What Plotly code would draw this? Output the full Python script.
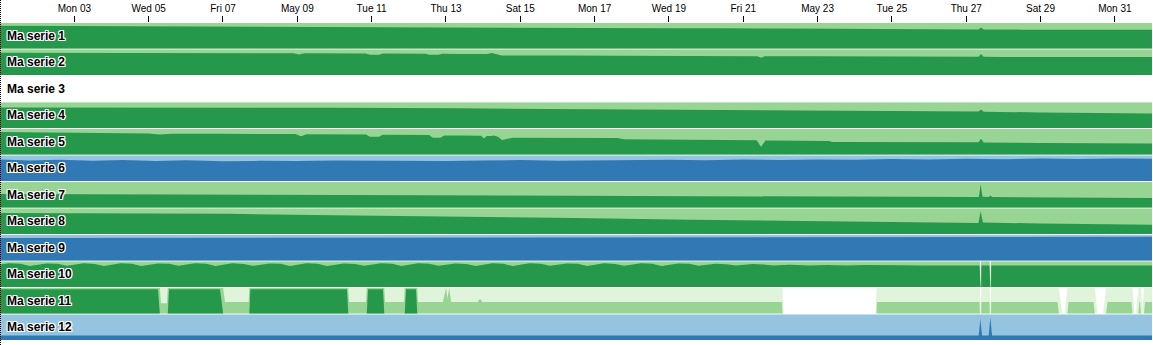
import numpy as np
import pandas as pd
import plotly.graph_objects as go

# ---------------- data (time = day of May 2021, fractional) ----------------
series_names = ["Ma serie 1", "Ma serie 2", "Ma serie 3", "Ma serie 4", "Ma serie 5", "Ma serie 6",
                "Ma serie 7", "Ma serie 8", "Ma serie 9", "Ma serie 10", "Ma serie 11", "Ma serie 12"]

tick_days = [3, 5, 7, 9, 11, 13, 15, 17, 19, 21, 23, 25, 27, 29, 31]
tick_labels = ["Mon 03", "Wed 05", "Fri 07", "May 09", "Tue 11", "Thu 13", "Sat 15", "Mon 17",
               "Wed 19", "Fri 21", "May 23", "Tue 25", "Thu 27", "Sat 29", "Mon 31"]

t1 = [1.0, 2.5, 4.0, 5.5, 7.0, 8.5, 10.0, 11.5, 13.0, 14.5, 16.0, 17.5, 19.0, 20.5, 21.5, 22.0, 23.5,
      25.0, 26.5, 27.33, 27.4, 27.47, 28.5, 30.0, 32.0]
v1 = [2.89, 2.88, 2.87, 2.86, 2.86, 2.85, 2.84, 2.82, 2.81, 2.80, 2.80, 2.80, 2.79, 2.79, 2.77, 2.78, 2.77,
      2.76, 2.75, 2.75, 2.82, 2.75, 2.74, 2.74, 2.74]

t2 = [1.0, 3.0, 5.0, 7.0, 8.9, 9.05, 9.2, 10.85, 10.95, 11.2, 11.3, 12.45, 12.55, 12.8, 12.9, 13.4, 14.1,
      14.24, 14.35, 14.5, 16.0, 18.0, 19.7, 21.38, 21.48, 21.58, 23.0, 25.0, 26.6, 27.33, 27.4, 27.47,
      28.0, 30.0, 32.0]
v2 = [2.87, 2.87, 2.86, 2.86, 2.85, 2.80, 2.85, 2.84, 2.79, 2.79, 2.84, 2.83, 2.79, 2.79, 2.83, 2.82, 2.82,
      2.86, 2.82, 2.76, 2.76, 2.75, 2.74, 2.74, 2.68, 2.74, 2.74, 2.74, 2.73, 2.72, 2.82, 2.72,
      2.71, 2.71, 2.71]

t3 = [1.0, 32.0]
v3 = [0.0, 0.0]

t4 = [1.0, 4.0, 7.0, 10.0, 13.4, 16.0, 19.6, 22.0, 25.0, 26.5, 27.33, 27.4, 27.47, 29.0, 32.0]
v4 = [2.80, 2.80, 2.80, 2.79, 2.77, 2.75, 2.73, 2.71, 2.68, 2.66, 2.65, 2.73, 2.64, 2.61, 2.57]

t5 = [1.0, 3.7, 5.0, 5.3, 5.6, 7.0, 8.95, 9.1, 9.25, 10.85, 10.95, 11.2, 11.3, 12.55, 12.65, 12.85, 12.95,
      13.4, 13.95, 14.02, 14.1, 14.22, 14.29, 14.4, 14.51, 14.8, 17.6, 17.8, 19.6, 21.36, 21.48, 21.6,
      22.5, 23.3, 23.4, 26.0, 27.33, 27.4, 27.47, 29.0, 32.0]
v5 = [2.88, 2.85, 2.82, 2.78, 2.81, 2.81, 2.80, 2.72, 2.79, 2.78, 2.70, 2.70, 2.77, 2.76, 2.66, 2.66, 2.75,
      2.75, 2.74, 2.63, 2.73, 2.73, 2.75, 2.70, 2.57, 2.66, 2.65, 2.60, 2.57, 2.56, 2.30, 2.55,
      2.54, 2.53, 2.49, 2.49, 2.48, 2.62, 2.47, 2.45, 2.43]

t6 = [1.0, 1.8, 2.6, 3.5, 4.3, 5.2, 6.0, 7.0, 8.0, 9.0, 10.0, 11.0, 12.0, 13.0, 14.0, 15.0, 16.0, 17.0,
      18.0, 19.0, 20.0, 21.0, 22.0, 23.0, 24.0, 25.0, 26.0, 27.0, 28.0, 29.0, 30.0, 31.0, 32.0]
v6 = [-1.84, -1.80, -1.83, -1.79, -1.82, -1.78, -1.81, -1.77, -1.79, -1.78, -1.80, -1.79, -1.81, -1.78,
      -1.80, -1.82, -1.79, -1.81, -1.80, -1.83, -1.81, -1.84, -1.82, -1.84, -1.83, -1.86, -1.84, -1.87,
      -1.85, -1.88, -1.86, -1.88, -1.87]

t7 = [1.0, 7.2, 13.4, 19.6, 24.0, 26.5, 27.34, 27.39, 27.44, 27.6, 27.65, 27.7, 32.0]
v7 = [2.53, 2.50, 2.46, 2.43, 2.42, 2.41, 2.41, 2.90, 2.42, 2.41, 2.47, 2.41, 2.37]

t8 = [1.0, 4.0, 7.2, 10.0, 13.4, 16.5, 19.6, 23.0, 26.0, 27.33, 27.39, 27.45, 29.0, 32.0]
v8 = [2.82, 2.80, 2.79, 2.74, 2.69, 2.63, 2.56, 2.50, 2.44, 2.43, 2.89, 2.45, 2.41, 2.36]

t9 = [1.0, 8.0, 16.0, 22.0, 27.0, 32.0]
v9 = [-1.88, -1.89, -1.90, -1.91, -1.92, -1.93]

t10 = [1.0,
       1.25, 1.55, 1.8, 2.25, 2.55, 2.8, 3.25, 3.55, 3.8, 4.25, 4.55, 4.8, 5.25, 5.55, 5.8,
       6.25, 6.55, 6.8, 7.25, 7.55, 7.8, 8.25, 8.55, 8.8, 9.25, 9.55, 9.8, 10.25, 10.55, 10.8,
       11.25, 11.55, 11.8, 12.25, 12.55, 12.8, 13.25, 13.55, 13.8, 14.25, 14.55, 14.8, 15.25, 15.55, 15.8,
       16.25, 16.55, 16.8, 17.25, 17.55, 17.8, 18.25, 18.55, 18.8, 19.25, 19.55, 19.8, 20.25, 20.55, 20.8,
       21.25, 21.55, 21.8,
       22.25, 22.8, 23.25, 23.8, 24.25, 24.8, 25.25, 25.8, 26.25, 26.8,
       27.36, 27.386, 27.41, 27.625, 27.65, 27.675, 32.0]
v10 = [2.88,
       2.93, 2.91, 2.82, 2.92, 2.91, 2.83, 2.93, 2.90, 2.82, 2.93, 2.91, 2.82, 2.92, 2.91, 2.83,
       2.93, 2.91, 2.82, 2.93, 2.90, 2.83, 2.92, 2.91, 2.82, 2.93, 2.91, 2.82, 2.92, 2.90, 2.83,
       2.93, 2.91, 2.82, 2.93, 2.91, 2.83, 2.92, 2.90, 2.82, 2.93, 2.91, 2.82, 2.93, 2.91, 2.83,
       2.92, 2.91, 2.82, 2.93, 2.90, 2.83, 2.93, 2.91, 2.82, 2.92, 2.91, 2.83, 2.91, 2.89, 2.84,
       2.90, 2.88, 2.84,
       2.87, 2.84, 2.86, 2.84, 2.86, 2.84, 2.85, 2.84, 2.85, 2.84,
       2.84, 0.10, 2.84, 2.84, 0.10, 2.84, 2.84]

t11 = [1.0, 5.252, 5.333, 5.494, 5.548, 6.92, 7.055, 7.693, 7.736, 10.338, 10.392, 10.849, 10.903,
       11.307, 11.361, 11.872, 11.926, 12.195, 12.249, 12.92, 13.0, 13.04, 13.09, 13.14, 13.85, 13.917,
       13.98, 22.044, 22.09, 24.56, 24.60, 27.36, 27.386, 27.41, 27.625, 27.65, 27.675, 29.458, 29.579,
       29.652, 29.754, 30.427, 30.534, 30.682, 30.803, 31.449, 31.53, 31.57, 31.66, 31.678, 31.745,
       31.81, 32.0]
v11 = [2.95, 2.95, 1.40, 1.40, 2.95, 2.95, 1.45, 1.45, 2.95, 2.95, 1.45, 1.45, 2.95,
       2.95, 1.45, 1.45, 2.95, 2.95, 1.45, 1.45, 2.00, 1.60, 2.00, 1.45, 1.45, 1.58,
       1.45, 1.45, 0.00, 0.00, 1.45, 1.45, 0.00, 1.45, 1.45, 0.00, 1.45, 1.45, 0.00,
       0.00, 1.45, 1.45, 0.00, 0.00, 1.45, 1.45, 0.00, 0.00, 1.45, 1.45, 0.20,
       1.45, 1.45]

t12 = [1.0, 10.0, 20.0, 27.338, 27.381, 27.426, 27.606, 27.65, 27.695, 32.0]
v12 = [-1.18, -1.18, -1.18, -1.18, -1.82, -1.18, -1.18, -1.89, -1.18, -1.18]

times = [t1, t2, t3, t4, t5, t6, t7, t8, t9, t10, t11, t12]
values = [v1, v2, v3, v4, v5, v6, v7, v8, v9, v10, v11, v12]

# ---------------- style ----------------
GREENS = ["#e0f3db", "#98d594", "#26984b"]
BLUES = ["#94c4df", "#3079b5", "#08519c"]
SLOT = 26.5      # px per row
BH = 25.5        # px band height
BASE = pd.Timestamp("2021-04-30")
FONT = "Liberation Sans, Arial, Helvetica, sans-serif"


def densify(t, v, k):
    ts, vs = [t[0]], [v[0]]
    for i in range(1, len(t)):
        a, b = v[i - 1], v[i]
        cs = [c for c in (k, k + 1) if (a - c) * (b - c) < 0]
        cs.sort(key=lambda c: (c - a) / (b - a))
        for c in cs:
            f = (c - a) / (b - a)
            ts.append(t[i - 1] + f * (t[i] - t[i - 1]))
            vs.append(c)
        ts.append(t[i])
        vs.append(b)
    return np.array(ts), np.array(vs)


fig = go.Figure()
for i, (t, v) in enumerate(zip(times, values)):
    v = np.array(v, dtype=float)
    bottom = i * SLOT + BH
    for sign, pal in ((1, GREENS), (-1, BLUES)):
        mag = np.maximum(sign * v, 0)
        for k in range(3):
            ts, vs = densify(list(t), list(mag), k)
            h = np.clip(vs - k, 0, 1)
            if h.max() <= 0:
                continue
            xs = BASE + pd.to_timedelta(ts, unit="D")
            xpoly = list(xs) + list(xs[::-1])
            ypoly = list(bottom - h * BH) + [bottom] * len(xs)
            fig.add_trace(go.Scatter(x=xpoly, y=ypoly, fill="toself", fillcolor=pal[k],
                                     mode="lines", line=dict(width=0), hoverinfo="skip",
                                     showlegend=False))

halo = ("1px 0 0 white, -1px 0 0 white, 0 1px 0 white, 0 -1px 0 white, "
        "1px 1px 0 white, -1px -1px 0 white, 1px -1px 0 white, -1px 1px 0 white")
for i, name in enumerate(series_names):
    fig.add_annotation(xref="paper", x=0, xanchor="left", xshift=5,
                       yref="y", y=i * SLOT + BH / 2, yanchor="middle",
                       text=name, showarrow=False,
                       font=dict(family=FONT, size=12, color="#000", weight="bold", shadow=halo))

tick_dates = [BASE + pd.Timedelta(days=d) for d in tick_days]

fig.update_layout(
    width=1153, height=345,
    margin=dict(l=0, r=1, t=23, b=4),
    paper_bgcolor="white", plot_bgcolor="white",
    xaxis=dict(type="date", range=[BASE + pd.Timedelta(days=1), BASE + pd.Timedelta(days=32)],
               side="top", tickvals=tick_dates, ticktext=tick_labels,
               ticks="outside", ticklen=6, tickwidth=1, tickcolor="#000",
               showgrid=False, zeroline=False, showline=False,
               tickfont=dict(family=FONT, size=10, color="#000"), fixedrange=True),
    yaxis=dict(range=[12 * SLOT, 0], visible=False, fixedrange=True),
    shapes=[dict(type="line", xref="paper", xsizemode="pixel", xanchor=0, x0=0.5, x1=0.5,
                 yref="paper", ysizemode="pixel", yanchor=0, y0=-4, y1=341,
                 line=dict(color="#000", width=1, dash="1px,1px"))],
)

fig.write_html("out.html")
